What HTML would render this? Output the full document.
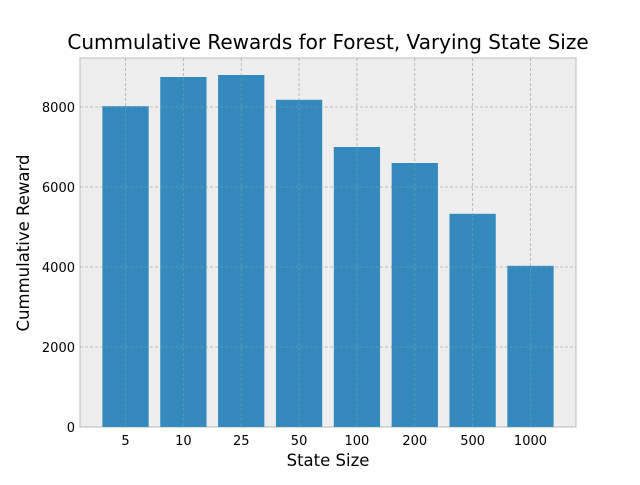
<!DOCTYPE html>
<html><head><meta charset="utf-8"><style>
body{margin:0;background:#fff;font-family:"Liberation Sans","DejaVu Sans",sans-serif;}
</style></head><body>
<svg id="chart" width="640" height="480" xmlns="http://www.w3.org/2000/svg">
<rect width="640" height="480" fill="#fff"/>
<text x="328" y="49" text-anchor="middle" font-size="20" font-family="DejaVu Sans, sans-serif" fill="#000">Cummulative Rewards for Forest, Varying State Size</text>
<rect x="80" y="58" width="496" height="369" fill="#eeeeee" stroke="#bcbcbc" stroke-width="1"/>
<g id="grid"></g>
<g id="bars"></g>
<g id="ticks" font-family="DejaVu Sans, sans-serif" font-size="13" fill="#000"></g>
<text x="328" y="466" text-anchor="middle" font-size="16.5" font-family="DejaVu Sans, sans-serif">State Size</text>
<text transform="translate(29,243) rotate(-90)" text-anchor="middle" font-size="16.5" font-family="DejaVu Sans, sans-serif">Cummulative Reward</text>
</svg>
<script>
const categories = ["5","10","25","50","100","200","500","1000"];
const rewards = [8020, 8750, 8800, 8180, 7000, 6600, 5330, 4030];
const yTicks = [0, 2000, 4000, 6000, 8000];

const L=80,R=576,T=58,B=427;
const yMax=9225, xMin=-0.787, xMax=7.787;
const y=v=>B-(v/yMax)*(B-T);
const x=i=>L+(i-xMin)/(xMax-xMin)*(R-L);
const ns="http://www.w3.org/2000/svg";
const grid=document.getElementById('grid'), bars=document.getElementById('bars'), ticks=document.getElementById('ticks');
function mk(tag,attrs,parent){const e=document.createElementNS(ns,tag);for(const k in attrs)e.setAttribute(k,attrs[k]);parent.appendChild(e);return e;}
yTicks.forEach(v=>{
  const g=mk('line',{x1:L,x2:R,y1:y(v),y2:y(v),stroke:'#b2b2b2','stroke-width':0.8,'stroke-dasharray':'3,2'},grid);
  
  
  const t=mk('text',{x:L-5,y:y(v)+5,'text-anchor':'end'},ticks);
  t.textContent=v;
  
  
});
categories.forEach((c,i)=>{
  const g=mk('line',{x1:x(i),x2:x(i),y1:T,y2:B,stroke:'#b2b2b2','stroke-width':0.8,'stroke-dasharray':'3,2'},grid);
  
  
  const w=(x(0.4)-x(-0.4));
  const b=mk('rect',{x:x(i)-w/2,y:y(rewards[i]),width:w,height:B-y(rewards[i]),fill:'#348abd'},bars);
  
  
  const t=mk('text',{x:x(i),y:B+18,'text-anchor':'middle'},ticks);
  t.textContent=c;
  
  
});
bars.parentNode.insertBefore(grid.cloneNode(true),bars.nextSibling).setAttribute('opacity','0.35');
</script>
</body></html>
